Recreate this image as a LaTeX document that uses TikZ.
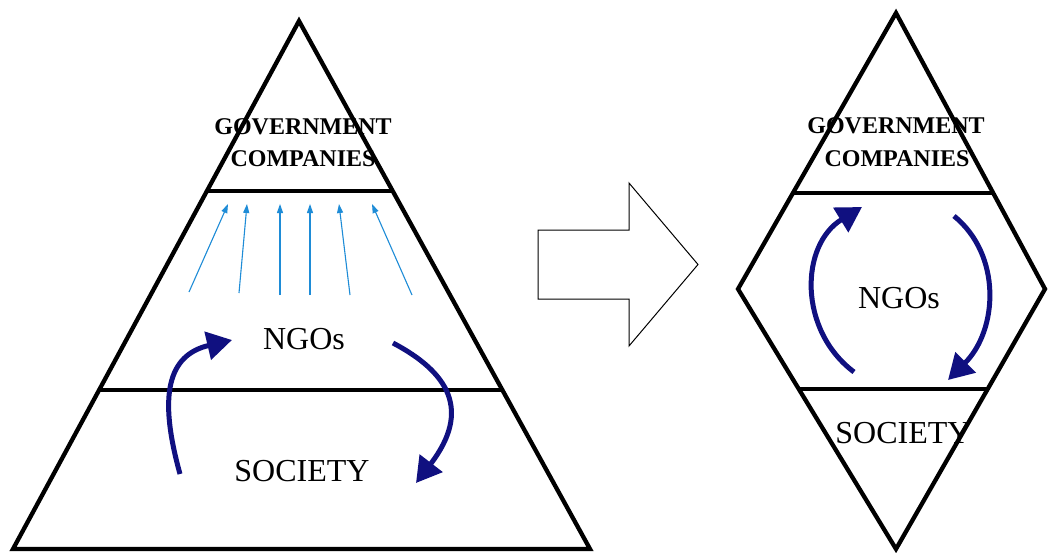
\documentclass[tikz,border=0pt]{standalone}
\usepackage{fontspec}
\setmainfont{Liberation Serif}
\usetikzlibrary{arrows.meta,calc}
\definecolor{flowBlue}{RGB}{30,140,215}
\definecolor{ngoNavy}{RGB}{16,16,128}
\tikzset{
  frame/.style={line width=4.3pt, line join=miter, draw=black},
  lbl/.style={font=\fontsize{32}{36}\selectfont, anchor=base, inner sep=0pt},
  toplbl/.style={font=\fontsize{24}{28}\selectfont\bfseries, anchor=base, inner sep=0pt},
  thinarrow/.style={line width=1.1pt, draw=flowBlue, -{Triangle[length=9pt,width=6pt]}},
  bigarrow/.style={line width=5pt, draw=ngoNavy, -{Triangle[length=25pt,width=28pt]}},
  blockarrow/.style={line width=1pt, draw=black, fill=white, line join=miter}
}
\begin{document}
\begin{tikzpicture}[x=1pt,y=-1pt]
\useasboundingbox (0,0) rectangle (1049,552);
\fill[white] (0,0) rectangle (1049,552);

% ---------- left pyramid ----------
\coordinate (A) at (299,21);
\coordinate (BL) at (13,549);
\coordinate (BR) at (590,549);
\draw[frame] (A) -- (BR) -- (BL) -- cycle;
\draw[frame] ($(A)!0.322!(BL)$) -- ($(A)!0.322!(BR)$);
\draw[frame] ($(A)!0.699!(BL)$) -- ($(A)!0.699!(BR)$);

\node[toplbl] (pgov) at (303,134) {GOVERNMENT};
\node[toplbl] (pcomp) at (303,166) {COMPANIES};
\node[lbl] (pngo) at (304,349) {NGOs};
\node[lbl] (psoc) at (302,481) {SOCIETY};

% thin upward arrows
\foreach \i/\sx/\sy/\ex/\ey in {1/189/292/228/204, 2/239/293/247/204, 3/280/295/280/204,
                                4/310/295/310/204, 5/350/295/339/204, 6/412/295/372/204}{
  \coordinate (s\i) at (\sx,\sy);
  \coordinate (e\i) at (\ex,\ey);
  \draw[thinarrow] (s\i) -- (e\i);
}

% thick curved arrows in pyramid
\coordinate (pl1) at (180,474);
\coordinate (pl2) at (232,340);
\draw[bigarrow] (pl1) .. controls (158,395) and (168,355) .. (pl2);
\coordinate (pr1) at (393,343);
\coordinate (pr2) at (416,483);
\draw[bigarrow] (pr1) .. controls (448,372) and (472,410) .. (pr2);

% ---------- block arrow ----------
\draw[blockarrow] (538,230) -- (629,230) -- (629,183) -- (698,264.5)
  -- (629,346) -- (629,299) -- (538,299) -- cycle;

% ---------- right diamond ----------
\coordinate (T) at (896,13);
\coordinate (L) at (738,289);
\coordinate (R) at (1045,289);
\coordinate (B) at (896,549);
\draw[frame] (T) -- (R) -- (B) -- (L) -- cycle;
\draw[frame] ($(T)!0.652!(L)$) -- ($(T)!0.652!(R)$);
\draw[frame] ($(L)!0.385!(B)$) -- ($(R)!0.385!(B)$);

\node[toplbl] (dgov) at (896,133) {GOVERNMENT};
\node[toplbl] (dcomp) at (897,166) {COMPANIES};
\node[lbl] (dngo) at (899,308) {NGOs};
\node[lbl] (dsoc) at (903,443) {SOCIETY};

\coordinate (dl1) at (854,372);
\coordinate (dl2) at (862,207);
\draw[bigarrow] (dl1) .. controls (798,330) and (800,245) .. (dl2);
\coordinate (dr1) at (954,216);
\coordinate (dr2) at (948,380);
\draw[bigarrow] (dr1) .. controls (1002,255) and (998,330) .. (dr2);
\end{tikzpicture}
\end{document}
